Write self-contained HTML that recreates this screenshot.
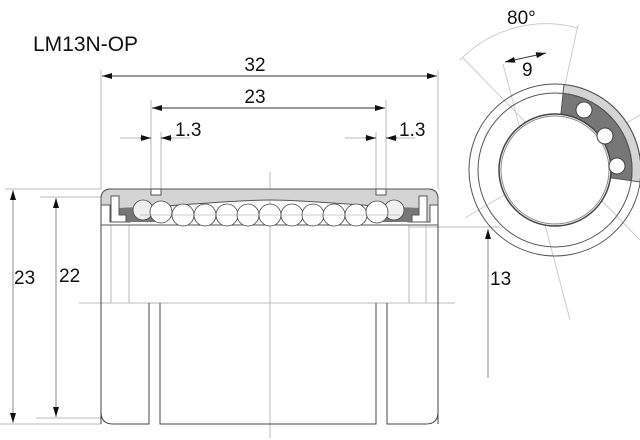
<!DOCTYPE html>
<html><head><style>body{margin:0;background:#fff}svg{display:block}text{font-family:"Liberation Sans",sans-serif;fill:#111}</style></head><body>
<svg width="640" height="440" viewBox="0 0 640 440" xmlns="http://www.w3.org/2000/svg">
<defs><marker id="a" viewBox="0 0 10 6" refX="10" refY="3" markerWidth="10" markerHeight="6" orient="auto-start-reverse" markerUnits="userSpaceOnUse"><path d="M0,0L10,3L0,6z" fill="#111"/></marker></defs>
<text x="33" y="51" font-size="21">LM13N-OP</text>
<g stroke="#bbb" stroke-width="1" fill="none">
<line x1="101" y1="70" x2="101" y2="189"/><line x1="438" y1="70" x2="438" y2="189"/>
<line x1="151" y1="100" x2="151" y2="189"/><line x1="386" y1="100" x2="386" y2="189"/>
<line x1="161" y1="132" x2="161" y2="189"/><line x1="376" y1="132" x2="376" y2="189"/>
<line x1="5" y1="189" x2="101" y2="189"/><line x1="40" y1="197" x2="105" y2="197"/>
<line x1="0" y1="424" x2="101" y2="424"/><line x1="36" y1="418" x2="101" y2="418"/>
<line x1="79" y1="303" x2="455" y2="303"/>
<line x1="270" y1="172" x2="270" y2="438"/>
<line x1="111" y1="225" x2="111" y2="303"/><line x1="129" y1="225" x2="129" y2="303"/>
<line x1="409" y1="225" x2="409" y2="303"/><line x1="426" y1="225" x2="426" y2="303"/>
<line x1="408" y1="227" x2="500" y2="227"/>
<line x1="120" y1="138" x2="151" y2="138"/><line x1="161" y1="138" x2="190" y2="138"/>
<line x1="345" y1="138" x2="376" y2="138"/><line x1="386" y1="138" x2="415" y2="138"/>
</g>
<g stroke="#333" stroke-width="1" fill="none">
<line x1="102" y1="76" x2="437" y2="76" marker-start="url(#a)" marker-end="url(#a)"/>
<line x1="152" y1="108" x2="385" y2="108" marker-start="url(#a)" marker-end="url(#a)"/>
<line x1="140" y1="138" x2="151" y2="138" marker-end="url(#a)"/>
<line x1="172" y1="138" x2="161" y2="138" marker-end="url(#a)"/>
<line x1="365" y1="138" x2="376" y2="138" marker-end="url(#a)"/>
<line x1="397" y1="138" x2="386" y2="138" marker-end="url(#a)"/>
<line x1="13" y1="423" x2="13" y2="190" marker-start="url(#a)" marker-end="url(#a)" stroke="#888"/>
<line x1="56" y1="417" x2="56" y2="198" marker-start="url(#a)" marker-end="url(#a)" stroke="#888"/>
<line x1="488" y1="378" x2="488" y2="229" marker-end="url(#a)" stroke="#888"/>
</g>
<text x="255" y="71" font-size="19" text-anchor="middle">32</text>
<text x="255" y="103" font-size="19" text-anchor="middle">23</text>
<text x="175" y="136" font-size="19">1.3</text>
<text x="399" y="136" font-size="19">1.3</text>
<text x="14" y="284" font-size="19">23</text>
<text x="59" y="282" font-size="19">22</text>
<text x="490" y="285" font-size="19">13</text>
<!-- body -->
<path d="M101,424 V199 Q101,189 111,189 H428 Q438,189 438,199 V424" fill="none" stroke="#444"/>
<path d="M101,205 V199 Q101,189 111,189 H151 V195 H161 V189 H376 V195 H386 V189 H428 Q438,189 438,199 V205 H430 V222 H408 V208 H400 Q300,200 270,200 Q240,200 140,208 H130 V222 H110 V205 Z" fill="#d4d4d4" stroke="#555"/>
<path d="M118,208 L140,207 Q150,210 160,222 H118 Z M421,208 L398,207 Q388,210 378,222 H421 Z" fill="#777"/>
<path d="M111,196 H119 V215 H126 V222 H111 Z M427,196 H419 V215 H412 V222 H427 Z" fill="#fff" stroke="#555"/>
<line x1="101" y1="225" x2="438" y2="225" stroke="#555"/>
<g fill="#fff" stroke="#444" stroke-width="0.8">
<circle cx="143" cy="210" r="10" fill="#f0f0f0"/><circle cx="394" cy="210" r="10" fill="#f0f0f0"/>
<circle cx="161" cy="212" r="11"/><circle cx="183" cy="215" r="11"/><circle cx="205" cy="215" r="11"/><circle cx="227" cy="215" r="11"/><circle cx="248" cy="215" r="11"/><circle cx="270" cy="215" r="11"/><circle cx="292" cy="215" r="11"/><circle cx="313" cy="215" r="11"/><circle cx="334" cy="215" r="11"/><circle cx="356" cy="215" r="11"/><circle cx="377" cy="212" r="11"/>
</g>
<g stroke="#999" stroke-width="0.6"><line x1="140" y1="215" x2="400" y2="215"/></g>
<g stroke="#444" fill="none">
<path d="M101,412 Q101,424 113,424 H149 V303"/>
<path d="M160,303 V424 H376 V303"/>
<path d="M387,303 V424 H426 Q438,424 438,412"/>
</g>
<!-- end view -->
<g fill="none">
<path d="M460,60 A120,120 0 0 1 578,28" stroke="#ccc"/>
<line x1="463" y1="58" x2="640" y2="240" stroke="#ccc"/>
<line x1="578" y1="25" x2="565" y2="85" stroke="#ccc"/>
<line x1="503" y1="64" x2="570" y2="320" stroke="#ccc"/>
<line x1="465" y1="218" x2="640" y2="115" stroke="#ccc"/>
<line x1="505" y1="62" x2="546" y2="53" stroke="#333" marker-start="url(#a)" marker-end="url(#a)"/>
<path d="M564,84.5 A86,86 0 0 1 640,182 L631.3,180.7 A77,77 0 0 0 563,93.4 Z" fill="#d4d4d4" stroke="#555"/>
<path d="M563,93.4 A77,77 0 0 1 631.3,180.7 L610.5,177.8 A56,56 0 0 0 560.9,114.3 Z" fill="#777" stroke="#555"/>
<circle cx="555" cy="170" r="86" stroke="#555"/>
<circle cx="555" cy="170" r="77" stroke="#555"/>
<circle cx="555" cy="170" r="56" stroke="#444" stroke-width="1.5" fill="#fff"/>
<circle cx="555" cy="170" r="54" stroke="#888"/>
</g>
<g fill="#fff" stroke="#444"><circle cx="584" cy="110" r="8"/><circle cx="605" cy="136" r="8"/><circle cx="617" cy="166" r="8"/></g>
<text x="507" y="24" font-size="19">80°</text>
<text x="522" y="76" font-size="19">9</text>
</svg>
</body></html>
